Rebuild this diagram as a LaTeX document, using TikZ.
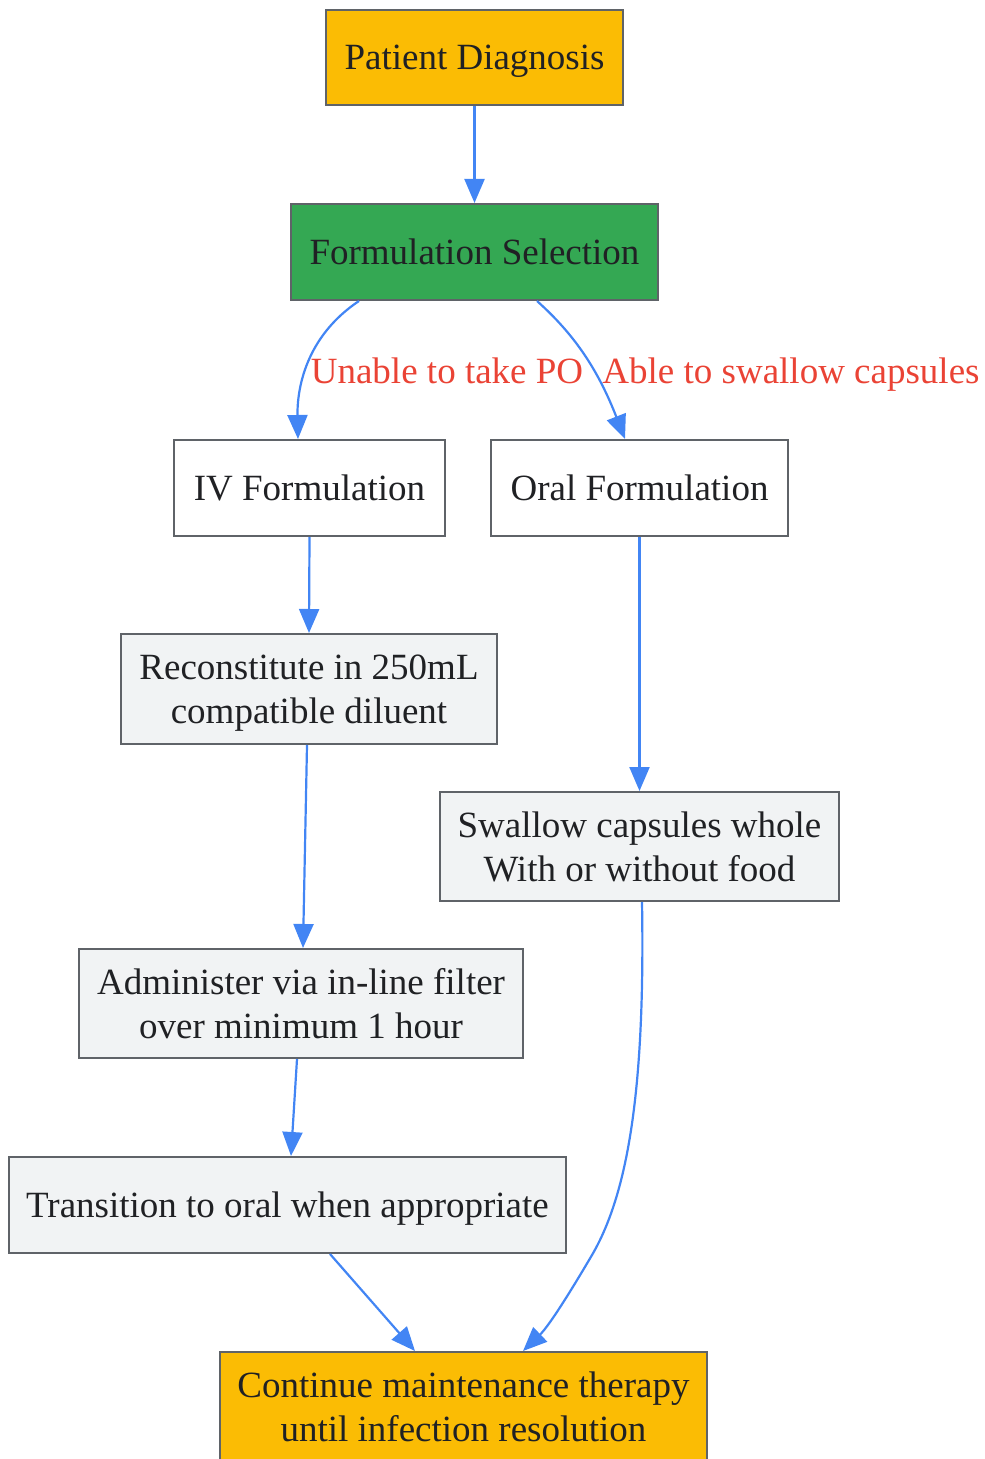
\documentclass[tikz,border=0pt]{standalone}
\usepackage{fontspec}
\setmainfont{Liberation Serif}
\usetikzlibrary{arrows.meta,calc}
\definecolor{amber}{HTML}{FBBC04}
\definecolor{gr}{HTML}{34A853}
\definecolor{lg}{HTML}{F1F3F4}
\definecolor{bd}{HTML}{5F6368}
\definecolor{tx}{HTML}{202124}
\definecolor{eb}{HTML}{4285F4}
\definecolor{lr}{HTML}{EA4335}
\begin{document}
\begin{tikzpicture}[x=0.5pt,y=-0.5pt,
  box/.style={draw=bd,line width=1pt,text=tx,align=center,inner sep=0pt,text depth=0pt,
    font=\fontsize{18.5}{22}\selectfont},
  edge/.style={draw=eb,line width=1.1pt,-{Triangle[length=12pt,width=10pt]}},
  lab/.style={text=lr,font=\fontsize{18.5}{22}\selectfont,inner sep=0pt,anchor=base}]
\useasboundingbox (0,0) rectangle (984,1459);
\node[box,fill=amber,minimum width=148.5pt,minimum height=47.5pt] (pd) at (474.5,57.5) {Patient Diagnosis};
\node[box,fill=gr,minimum width=183.5pt,minimum height=48pt] (fs) at (474.5,252) {Formulation Selection};
\node[box,fill=white,minimum width=135.5pt,minimum height=48pt] (iv) at (309.5,488) {IV Formulation};
\node[box,fill=white,minimum width=148.5pt,minimum height=48pt] (oral) at (639.5,488) {Oral Formulation};
\node[box,fill=lg,minimum width=188pt,minimum height=55pt] (rec) at (309,689) {Reconstitute in 250mL\\compatible diluent};
\node[box,fill=lg,minimum width=199.5pt,minimum height=54.5pt] (sw) at (639.5,846.5) {Swallow capsules whole\\With or without food};
\node[box,fill=lg,minimum width=222pt,minimum height=54.5pt] (adm) at (301,1003.5) {Administer via in-line filter\\over minimum 1 hour};
\node[box,fill=lg,minimum width=278.5pt,minimum height=48pt] (tr) at (287.5,1205) {Transition to oral when appropriate};
\node[box,fill=amber,minimum width=243.5pt,minimum height=55pt] (co) at (463.5,1407) {Continue maintenance therapy\\until infection resolution};
\node[lab] (l1) at (447,384) {Unable to take PO};
\node[lab] (l2) at (791,384) {Able to swallow capsules};
\draw[edge] (pd.south) -- (fs.north);
\draw[edge] ($(fs.south)+(-115.5,0)$) .. controls (305,337) and (297,390) .. ($(iv.north)+(-11.5,0)$);
\draw[edge] ($(fs.south)+(62.5,0)$) .. controls (575,335) and (598,370) .. ($(oral.north)+(-14.5,0)$);
\draw[edge] (iv.south) -- (rec.north);
\draw[edge] (oral.south) -- (sw.north);
\draw[edge] ($(rec.south)+(-2,0)$) -- ($(adm.north)+(2,0)$);
\draw[edge] ($(sw.south)+(2.5,0)$) .. controls (645,1080) and (630,1190) .. (592,1255) .. controls (575,1284) and (550,1325) .. ($(co.north)+(59.5,0)$);
\draw[edge] ($(adm.south)+(-4,0)$) -- ($(tr.north)+(3.5,0)$);
\draw[edge] ($(tr.south)+(42.5,0)$) -- ($(co.north)+(-48.5,0)$);
\end{tikzpicture}
\end{document}
